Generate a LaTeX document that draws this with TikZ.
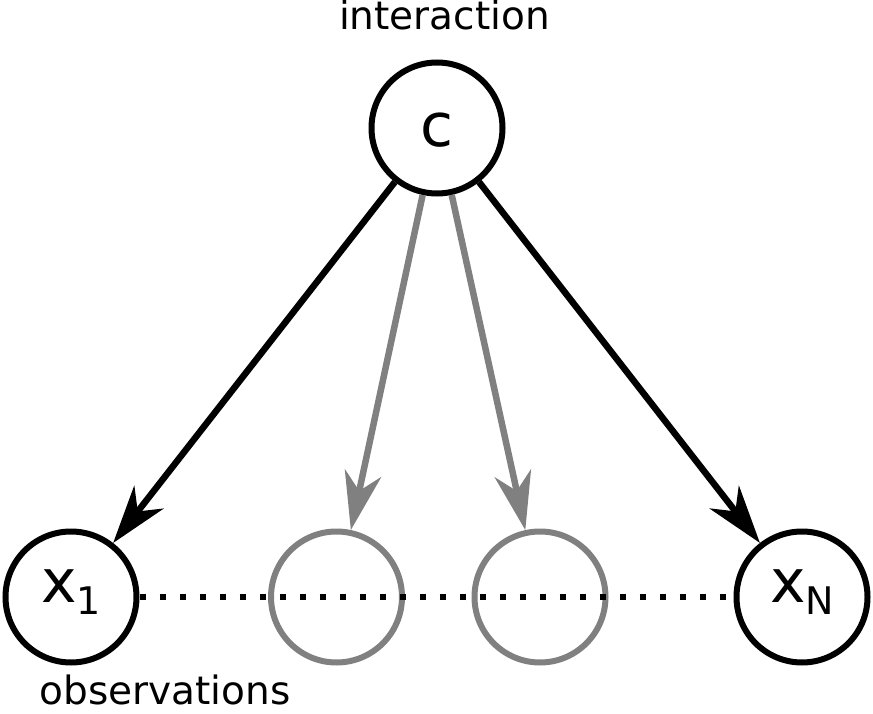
\documentclass[tikz,border=0pt]{standalone}
\usepackage{fontspec}
\setmainfont{DejaVu Sans}
\usetikzlibrary{arrows.meta}
\definecolor{midgray}{RGB}{128,128,128}
\begin{document}
\begin{tikzpicture}[x=1pt,y=-1pt,
  var/.style={circle,draw=black,line width=6pt,minimum size=131pt,inner sep=0pt,
              font=\fontsize{60}{60}\selectfont},
  ghost/.style={var,draw=midgray},
  lbl/.style={font=\fontsize{39}{39}\selectfont,inner sep=0pt,anchor=base},
  edge/.style={line width=6.5pt,-{Stealth[length=58pt,width=37pt,inset=18pt]}},
  gedge/.style={edge,color=midgray},
  dots/.style={line width=6.5pt,dash pattern=on 6.5pt off 13.5pt}]
\useasboundingbox (0,0) rectangle (873,714);
\node[var,text height=38pt,text depth=0pt] (c) at (437,128) {c};
\node[var,text height=33pt,text depth=23pt] (x1) at (71,597)
  {x\raisebox{-12.5pt}{\fontsize{38}{38}\selectfont 1}};
\node[ghost] (g1) at (336.5,597) {};
\node[ghost] (g2) at (540,597) {};
\node[var,text height=33pt,text depth=23pt] (xN) at (802,597)
  {x\raisebox{-12.5pt}{\fontsize{38}{38}\selectfont N}};
\draw[edge] (c) -- (x1);
\draw[edge] (c) -- (xN);
\draw[gedge] (c) -- (g1);
\draw[gedge] (c) -- (g2);
\draw[dots] (x1.east) -- (xN.west);
\node[lbl] (top) at (444.5,30) {interaction};
\node[lbl] (bot) at (165,704) {observations};
\end{tikzpicture}
\end{document}
